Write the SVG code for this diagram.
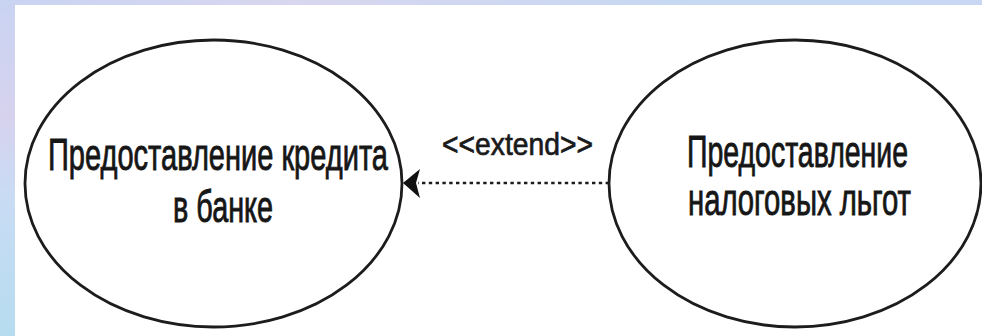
<svg xmlns="http://www.w3.org/2000/svg" width="982" height="336" viewBox="0 0 982 336">
  <defs>
    <linearGradient id="bg" x1="0" y1="0" x2="0" y2="1">
      <stop offset="0" stop-color="#c9d4f2"/>
      <stop offset="0.35" stop-color="#d6d2ee"/>
      <stop offset="0.6" stop-color="#c8dcf4"/>
      <stop offset="1" stop-color="#b6dcef"/>
    </linearGradient>
    <linearGradient id="topbg" x1="0" y1="0" x2="1" y2="0">
      <stop offset="0" stop-color="#c9d4f2"/>
      <stop offset="0.3" stop-color="#d8d6f0"/>
      <stop offset="0.7" stop-color="#c6d8f2"/>
      <stop offset="1" stop-color="#c8d8f4"/>
    </linearGradient>
  </defs>
  <style>
    .uc { fill: none; stroke: #1c1c1c; stroke-width: 2.8; }
    .lbl { font-family: "Liberation Sans", Arial, sans-serif; font-size: 44px; fill: #161616; stroke: #161616; stroke-width: 0.9; }
    .ster { font-family: "Liberation Sans", Arial, sans-serif; font-size: 32px; fill: #1a1a1a; stroke: #1a1a1a; stroke-width: 0.7; }
    .dep { stroke: #1c1c1c; stroke-width: 2.6; stroke-dasharray: 3.4 3.4; fill: none; }
  </style>
  <rect x="0" y="0" width="982" height="336" fill="url(#bg)"/>
  <rect x="0" y="0" width="982" height="5" fill="url(#topbg)"/>
  <rect x="15" y="5" width="967" height="331" fill="#ffffff"/>

  <g id="uc-credit">
    <ellipse class="uc" cx="213.5" cy="183.5" rx="188.5" ry="143.5"/>
    <text class="lbl" x="48" y="170" textLength="340" lengthAdjust="spacingAndGlyphs">Предоставление кредита</text>
    <text class="lbl" x="173" y="222" textLength="100" lengthAdjust="spacingAndGlyphs">в банке</text>
  </g>

  <g id="uc-tax">
    <ellipse class="uc" cx="795" cy="183.5" rx="186" ry="143.5"/>
    <text class="lbl" x="687" y="167" textLength="221" lengthAdjust="spacingAndGlyphs">Предоставление</text>
    <text class="lbl" x="688" y="215" textLength="223" lengthAdjust="spacingAndGlyphs">налоговых льгот</text>
  </g>

  <g id="connectors">
    <line class="dep" x1="609" y1="183" x2="418" y2="183"/>
    <polygon points="403,183 420,169 416,183 420,198" fill="#111"/>
    <text class="ster" x="442" y="155" textLength="151" lengthAdjust="spacingAndGlyphs">&lt;&lt;extend&gt;&gt;</text>
  </g>
</svg>
